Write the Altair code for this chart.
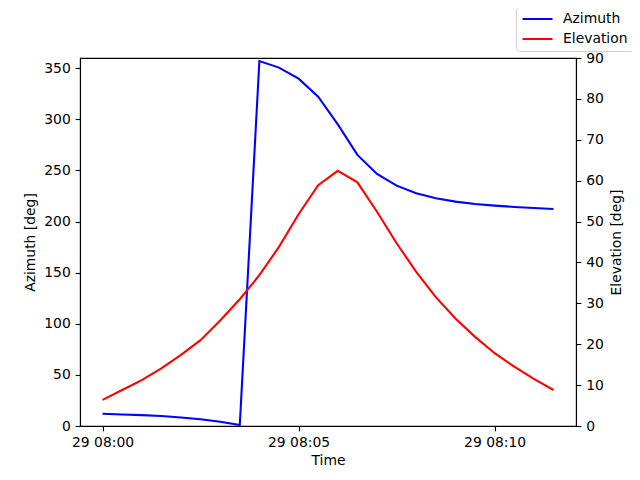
import altair as alt
import pandas as pd

times = ["08:00:00", "08:00:30", "08:01:00", "08:01:30", "08:02:00", "08:02:30",
         "08:03:00", "08:03:30", "08:04:00", "08:04:30", "08:05:00", "08:05:30",
         "08:06:00", "08:06:30", "08:07:00", "08:07:30", "08:08:00", "08:08:30",
         "08:09:00", "08:09:30", "08:10:00", "08:10:30", "08:11:00", "08:11:30"]
azimuth = [12.0, 11.3, 10.6, 9.7, 8.4, 6.6, 4.2, 1.0, 357.0, 350.6, 339.8, 322.2,
           295.0, 265.2, 246.6, 235.1, 227.7, 222.8, 219.5, 217.2, 215.6, 214.3, 213.3, 212.3]
elevation = [6.4, 8.8, 11.2, 14.1, 17.4, 21.0, 25.8, 31.0, 36.9, 43.8, 51.8, 58.9,
             62.4, 59.6, 52.4, 44.7, 37.7, 31.5, 26.3, 21.8, 17.8, 14.5, 11.5, 8.8]
series_names = ["Azimuth", "Elevation"]
series_colors = ["blue", "red"]

day = "2024-01-29T"
az_df = pd.DataFrame({"time": [day + t for t in times], "value": azimuth, "series": "Azimuth"})
el_df = pd.DataFrame({"time": [day + t for t in times], "value": elevation, "series": "Elevation"})

def dt(h, m, s, ms=0):
    return alt.DateTime(year=2024, month=1, date=29, hours=h, minutes=m, seconds=s, milliseconds=ms)

FONT = "DejaVu Sans"
FS = 13.9

x_enc = alt.X(
    "time:T",
    scale=alt.Scale(domain=[dt(7, 59, 25, 500), dt(8, 12, 4, 500)]),
    axis=alt.Axis(title="Time", format="%d %H:%M",
                  values=[dt(8, 0, 0), dt(8, 5, 0), dt(8, 10, 0)],
                  titlePadding=4, labelFlush=False),
)

color_enc = alt.Color(
    "series:N",
    scale=alt.Scale(domain=series_names, range=series_colors),
    legend=alt.Legend(
        title=None, orient="none", legendX=436, legendY=-51,
        symbolType="stroke", symbolSize=900, symbolStrokeWidth=2.08,
        labelFontSize=FS, labelFont=FONT, labelColor="black", labelOffset=9,
        clipHeight=14, rowPadding=6, padding=5, strokeColor="#d0d0d0",
        fillColor="white", cornerRadius=3, labelLimit=300,
    ),
)

az_line = alt.Chart(az_df).mark_line(strokeWidth=2.08, clip=True).encode(
    x=x_enc,
    y=alt.Y("value:Q", scale=alt.Scale(domain=[0, 360], nice=False),
            axis=alt.Axis(title="Azimuth [deg]", values=list(range(0, 351, 50)),
                          orient="left", titlePadding=6)),
    color=color_enc,
)

el_line = alt.Chart(el_df).mark_line(strokeWidth=2.08, clip=True).encode(
    x=x_enc,
    y=alt.Y("value:Q", scale=alt.Scale(domain=[0, 90], nice=False),
            axis=alt.Axis(title="Elevation [deg]", values=list(range(0, 91, 10)),
                          orient="right", titlePadding=6, titleAngle=270,
                          titleBaseline="top")),
    color=color_enc,
)

chart = alt.layer(az_line, el_line).resolve_scale(y="independent").properties(
    width=496, height=368,
    autosize=alt.AutoSizeParams(type="none"),
    padding={"left": 72, "top": 50, "right": 56, "bottom": 46},
    background="white",
).configure_view(
    stroke="black", strokeWidth=1.1
).configure_axis(
    grid=False, domainColor="black", domainWidth=1.1, tickColor="black",
    tickWidth=1.1, tickSize=4.86, labelPadding=4.86, labelFont=FONT,
    labelFontSize=FS, labelColor="black", titleFont=FONT,
    titleFontSize=FS, titleFontWeight="normal", titleColor="black",
)

chart.save("out.html", embed_options={"renderer": "svg", "actions": False})
